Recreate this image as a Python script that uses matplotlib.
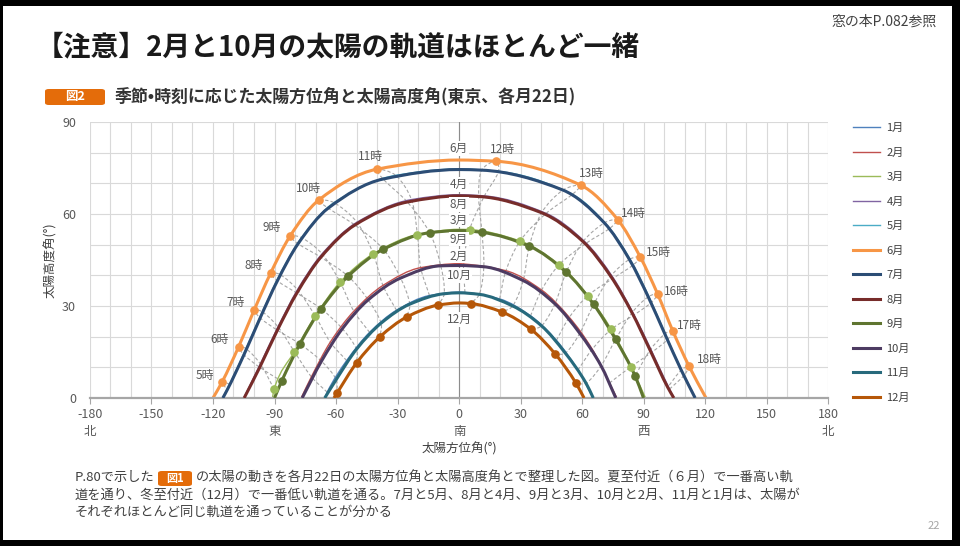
import numpy as np
import matplotlib.pyplot as plt
from matplotlib.path import Path
from matplotlib.patches import PathPatch, Rectangle, FancyBboxPatch
from matplotlib.lines import Line2D
from matplotlib.transforms import blended_transform_factory

plt.rcParams['font.family'] = ['Noto Sans CJK JP', 'DejaVu Sans']
plt.rcParams['axes.unicode_minus'] = False

# --- data: hourly sun position (azimuth, altitude), Tokyo, 22nd of each month ---
m01_hour = [7, 8, 9, 10, 11, 12, 13, 14, 15, 16]
m01_az = [-64.3, -54.8, -43.6, -30.5, -14.4, 2.9, 19.8, 34.9, 47.5, 58.0]
m01_alt = [1.9, 12.2, 21.4, 28.6, 33.4, 34.4, 32.3, 26.8, 18.8, 9.1]

m02_hour = [7, 8, 9, 10, 11, 12, 13, 14, 15, 16, 17]
m02_az = [-72.0, -62.8, -51.3, -37.1, -18.7, 2.3, 22.9, 40.3, 53.8, 65.0, 73.4]
m02_alt = [6.9, 18.2, 28.3, 36.7, 42.5, 43.7, 41.5, 35.2, 26.3, 15.9, 4.9]

m03_hour = [6, 7, 8, 9, 10, 11, 12, 13, 14, 15, 16, 17]
m03_az = [-90.2, -80.3, -70.1, -58.0, -41.8, -20.3, 5.2, 29.8, 48.9, 62.9, 74.3, 83.9]
m03_alt = [2.9, 15.1, 26.7, 37.8, 47.0, 53.3, 54.9, 51.2, 43.5, 33.4, 22.4, 10.2]

m04_hour = [6, 7, 8, 9, 10, 11, 12, 13, 14, 15, 16, 17, 18]
m04_az = [-96.9, -88.3, -78.8, -66.8, -49.8, -23.2, 12.4, 42.5, 62.1, 75.3, 85.4, 94.2, 102.7]
m04_alt = [11.1, 23.2, 35.3, 47.0, 57.3, 64.7, 65.9, 60.2, 50.5, 39.1, 27.1, 15.0, 2.9]

m05_hour = [5, 6, 7, 8, 9, 10, 11, 12, 13, 14, 15, 16, 17, 18]
m05_az = [-111.9, -103.9, -95.9, -87.4, -76.8, -61.0, -30.9, 19.3, 55.3, 73.5, 85.0, 93.9, 101.8, 109.8]
m05_alt = [4.5, 16.1, 28.1, 40.3, 52.3, 63.7, 72.6, 73.9, 66.4, 55.3, 43.4, 31.2, 19.1, 7.4]

m06_hour = [5, 6, 7, 8, 9, 10, 11, 12, 13, 14, 15, 16, 17, 18]
m06_az = [-115.5, -107.5, -99.9, -91.9, -82.4, -68.5, -40.1, 18.0, 59.4, 77.4, 88.4, 96.9, 104.2, 112.2]
m06_alt = [5.3, 16.7, 28.7, 40.7, 52.8, 64.5, 74.6, 77.2, 69.4, 58.2, 46.0, 33.9, 22.0, 10.4]

m07_hour = [5, 6, 7, 8, 9, 10, 11, 12, 13, 14, 15, 16, 17, 18]
m07_az = [-113.1, -104.9, -97.0, -88.6, -78.5, -63.8, -37.0, 11.1, 50.7, 70.9, 83.1, 92.3, 100.4, 108.4]
m07_alt = [2.6, 14.1, 26.1, 38.2, 50.3, 61.9, 71.4, 74.3, 67.8, 57.1, 45.2, 33.0, 20.9, 9.1]

m08_hour = [6, 7, 8, 9, 10, 11, 12, 13, 14, 15, 16, 17, 18]
m08_az = [-97.2, -88.6, -79.1, -67.4, -50.8, -25.2, 9.6, 40.3, 60.5, 74.0, 84.4, 93.2, 101.8]
m08_alt = [10.0, 22.1, 34.2, 45.9, 56.4, 63.9, 65.7, 60.4, 51.0, 39.7, 27.8, 15.6, 3.5]

m09_hour = [6, 7, 8, 9, 10, 11, 12, 13, 14, 15, 16, 17]
m09_az = [-86.5, -77.6, -67.3, -54.1, -36.9, -14.3, 11.2, 34.3, 52.3, 65.7, 76.4, 85.9]
m09_alt = [5.5, 17.6, 29.1, 39.7, 48.5, 53.9, 54.0, 49.5, 41.0, 30.5, 19.1, 7.2]

m10_hour = [7, 8, 9, 10, 11, 12, 13, 14, 15, 16]
m10_az = [-67.1, -56.9, -44.3, -28.5, -8.9, 12.1, 31.3, 46.8, 58.9, 69.3]
m10_alt = [12.0, 22.6, 32.0, 39.1, 43.1, 42.8, 38.3, 30.7, 21.1, 10.5]

m11_hour = [7, 8, 9, 10, 11, 12, 13, 14, 15, 16]
m11_az = [-59.9, -50.0, -38.0, -24.0, -7.2, 9.9, 26.2, 40.3, 51.9, 62.0]
m11_alt = [6.0, 15.9, 24.4, 30.6, 34.0, 33.8, 30.0, 23.5, 14.6, 4.8]

m12_hour = [7, 8, 9, 10, 11, 12, 13, 14, 15, 16]
m12_az = [-59.5, -49.9, -38.5, -25.5, -10.1, 5.7, 21.1, 35.1, 47.0, 57.1]
m12_alt = [1.6, 11.5, 20.0, 26.4, 30.3, 30.8, 28.0, 22.4, 14.3, 4.8]

# sunrise / sunset azimuth (altitude 0) and culmination altitude (azimuth 0)
rise_az = [-65.5, -77.0, -91.0, -105.0, -115.4, -120.0, -115.2, -104.8, -90.0, -76.5, -65.5, -61.0]
set_az = [65.5, 77.0, 91.0, 105.0, 115.4, 120.5, 115.2, 104.8, 90.0, 76.5, 65.5, 61.0]
peak_alt = [34.5, 43.8, 55.0, 66.3, 74.7, 77.6, 74.5, 65.9, 54.6, 43.2, 34.3, 31.0]

months = ['1月', '2月', '3月', '4月', '5月', '6月', '7月', '8月', '9月', '10月', '11月', '12月']
month_colors = ['#4F81BD', '#C0504D', '#9BBB59', '#8064A2', '#4BACC6', '#F79646',
                '#2C4D75', '#772C2A', '#5F7530', '#4D3B62', '#276A7C', '#B65708']
month_widths = [1.0, 1.0, 1.0, 1.0, 1.0, 2.2, 2.2, 2.2, 2.2, 2.2, 2.2, 2.2]
marked_months = [3, 6, 9, 12]

# labels written at azimuth 0
month_tag_text = ['6月', '4月', '8月', '3月', '9月', '2月', '10月', '12月']
month_tag_alt = [81.4, 69.6, 63.0, 58.0, 51.8, 46.3, 39.9, 25.6]

# hour labels next to the June markers (offset in pixels)
hour_label_offsets = [(-17, 6), (-19, 7), (-19, 7), (-17, 8), (-18, 9), (-10, 12), (-6, 13),
                      (7, 12), (11, 12), (16, 6), (18, 4), (19, 3), (17, 5), (20, 7)]

direction_az = [-180, -90, 0, 90, 180]
direction_text = ['北', '東', '南', '西', '北']

month_data = [
    (m01_hour, m01_az, m01_alt), (m02_hour, m02_az, m02_alt), (m03_hour, m03_az, m03_alt),
    (m04_hour, m04_az, m04_alt), (m05_hour, m05_az, m05_alt), (m06_hour, m06_az, m06_alt),
    (m07_hour, m07_az, m07_alt), (m08_hour, m08_az, m08_alt), (m09_hour, m09_az, m09_alt),
    (m10_hour, m10_az, m10_alt), (m11_hour, m11_az, m11_alt), (m12_hour, m12_az, m12_alt),
]


def bezier_path(pts, tang, t):
    verts = [pts[0]]
    codes = [Path.MOVETO]
    for i in range(len(pts) - 1):
        h = t[i + 1] - t[i]
        verts += [pts[i] + tang[i] * h / 3, pts[i + 1] - tang[i + 1] * h / 3, pts[i + 1]]
        codes += [Path.CURVE4] * 3
    return Path(verts, codes)


def smooth_path(x, y):
    # smoothed line through the points (chord-length Catmull-Rom as cubic beziers)
    pts = np.column_stack([x, y]).astype(float)
    scl = np.array([2.05, 3.07])  # roughly pixels per degree, for chord lengths
    d = np.linalg.norm(np.diff(pts * scl, axis=0), axis=1)
    t = np.concatenate([[0], np.cumsum(d)])
    m = np.zeros_like(pts)
    m[0] = (pts[1] - pts[0]) / (t[1] - t[0])
    m[-1] = (pts[-1] - pts[-2]) / (t[-1] - t[-2])
    for i in range(1, len(pts) - 1):
        m[i] = (pts[i + 1] - pts[i - 1]) / (t[i + 1] - t[i - 1])
    return bezier_path(pts, m, t)


def dome_path(x, y):
    # altitude as a smooth function of azimuth, no overshoot at the top (PCHIP slopes)
    x = np.asarray(x, float)
    y = np.asarray(y, float)
    h = np.diff(x)
    dl = np.diff(y) / h
    s = np.zeros_like(x)
    s[0], s[-1] = dl[0], dl[-1]
    for k in range(1, len(x) - 1):
        if dl[k - 1] * dl[k] > 0:
            w1 = 2 * h[k] + h[k - 1]
            w2 = h[k] + 2 * h[k - 1]
            s[k] = (w1 + w2) / (w1 / dl[k - 1] + w2 / dl[k])
    pts = np.column_stack([x, y])
    tang = np.column_stack([np.ones_like(s), s])
    return bezier_path(pts, tang, x)


fig = plt.figure(figsize=(9.6, 5.46), dpi=100, facecolor='black')
fig.patches.append(Rectangle((3 / 960, 6 / 546), 949 / 960, 534 / 546, transform=fig.transFigure,
                             fc='white', ec='none', zorder=-5))

fig.text(36 / 960, 1 - 47 / 546, '【注意】2月と10月の太陽の軌道はほとんど一緒',
         fontsize=20, fontweight='bold', color='#1a1a1a', va='center')
fig.text(937 / 960, 1 - 22 / 546, '窓の本P.082参照', fontsize=10, color='#404040',
         ha='right', va='center')

fig.patches.append(FancyBboxPatch((45 / 960, 1 - 105 / 546), 60 / 960, 16 / 546,
                                  boxstyle='round,pad=0,rounding_size=0.004',
                                  transform=fig.transFigure, fc='#E46C0A', ec='none', zorder=-4))
fig.text(75 / 960, 1 - 96.5 / 546, '図2', fontsize=9, color='white', fontweight='bold',
         ha='center', va='center')
fig.text(115 / 960, 1 - 96 / 546, '季節•時刻に応じた太陽方位角と太陽高度角(東京、各月22日)',
         fontsize=12.2, fontweight='bold', color='#333333', va='center')

ax = fig.add_axes([90 / 960, 148 / 546, 738 / 960, 276 / 546])
ax.set_zorder(2)
ax.patch.set_alpha(0)
ax.set_xlim(-180, 180)
ax.set_ylim(0, 90)
ax.set_xticks(np.arange(-180, 181, 30))
ax.set_yticks([0, 30, 60, 90])
ax.set_xticks(np.arange(-180, 181, 10), minor=True)
ax.set_yticks(np.arange(0, 91, 10), minor=True)
ax.grid(which='both', color='#D9D9D9', lw=0.8, zorder=0)
ax.set_axisbelow(True)
for s in ['top', 'right', 'left']:
    ax.spines[s].set_visible(False)
ax.spines['bottom'].set_color('#A6A6A6')
ax.spines['bottom'].set_linewidth(1.6)
ax.tick_params(axis='x', which='major', length=4, width=0.8, color='#A6A6A6',
               labelsize=9, labelcolor='#595959', pad=3)
ax.tick_params(axis='y', which='major', length=0, labelsize=9, labelcolor='#595959', pad=10)
ax.tick_params(which='minor', length=0)
ax.axvline(0, color='#8C8C8C', lw=0.8, zorder=1)

tr = blended_transform_factory(ax.transData, ax.transAxes)
for az, t in zip(direction_az, direction_text):
    ax.text(az, -0.123, t, transform=tr, ha='center', va='center', fontsize=9, color='#595959')
ax.text(0.5, -0.185, '太陽方位角(°)', transform=ax.transAxes, ha='center', va='center',
        fontsize=9, color='#404040')
ax.text(-0.054, 0.5, '太陽高度角(°)', transform=ax.transAxes, ha='center', va='center',
        rotation=90, fontsize=9, color='#404040')

# dashed hour lines connecting the same hour across months
all_hours = sorted(set(h for md in month_data for h in md[0]))
for h in all_hours:
    xs, ys = [], []
    for hours, az, alt in month_data:
        if h in hours:
            k = hours.index(h)
            xs.append(az[k])
            ys.append(alt[k])
    if len(xs) > 1:
        ax.add_patch(PathPatch(smooth_path(xs, ys), fill=False, ec='#A6A6A6', lw=0.8,
                               ls=(0, (3, 2)), zorder=1.5))

# month curves
for i, (hours, az, alt) in enumerate(month_data):
    px = [rise_az[i]] + list(az) + [0.0, set_az[i]]
    py = [0.0] + list(alt) + [peak_alt[i], 0.0]
    order = np.argsort(px)
    ax.add_patch(PathPatch(dome_path(np.array(px)[order], np.array(py)[order]), fill=False,
                           ec=month_colors[i], lw=month_widths[i], zorder=2 + i * 0.1,
                           capstyle='butt'))
    if i + 1 in marked_months:
        ax.plot(az, alt, ls='none', marker='o', ms=5.2, color=month_colors[i],
                mec=month_colors[i], zorder=4 + i * 0.1)

for h, az, alt, off in zip(m06_hour, m06_az, m06_alt, hour_label_offsets):
    ax.annotate(f'{h}時', xy=(az, alt), xytext=off, textcoords='offset pixels',
                ha='center', va='center', fontsize=8.5, color='#595959', zorder=6)

for t, a in zip(month_tag_text, month_tag_alt):
    ax.text(0, a, t, ha='center', va='center', fontsize=8.5, color='#595959', zorder=6,
            bbox=dict(fc='white', ec='none', pad=0.6))

handles = [Line2D([], [], color=c, lw=w) for c, w in zip(month_colors, month_widths)]
ax.legend(handles, months, loc='upper left', bbox_to_anchor=(843 / 960, 1 - 113 / 546),
          bbox_transform=fig.transFigure, frameon=False, fontsize=8, handlelength=2.4,
          labelspacing=1.3, handletextpad=0.6, labelcolor='#404040')

# caption
body = dict(fontsize=9.5, color='#404040', va='center')
fig.text(75 / 960, 1 - 478 / 546, 'P.80で示した', **body)
fig.patches.append(FancyBboxPatch((158 / 960, 1 - 486 / 546), 34 / 960, 15 / 546,
                                  boxstyle='round,pad=0,rounding_size=0.004',
                                  transform=fig.transFigure, fc='#E46C0A', ec='none', zorder=-4))
fig.text(175 / 960, 1 - 478.5 / 546, '図1', fontsize=8, color='white', fontweight='bold',
         ha='center', va='center')
fig.text(196 / 960, 1 - 478 / 546,
         'の太陽の動きを各月22日の太陽方位角と太陽高度角とで整理した図。夏至付近（６月）で一番高い軌', **body)
fig.text(75 / 960, 1 - 495 / 546,
         '道を通り、冬至付近（12月）で一番低い軌道を通る。7月と5月、8月と4月、9月と3月、10月と2月、11月と1月は、太陽が', **body)
fig.text(75 / 960, 1 - 512 / 546, 'それぞれほとんど同じ軌道を通っていることが分かる', **body)
fig.text(940 / 960, 1 - 526 / 546, '22', fontsize=8, color='#A6A6A6', ha='right', va='center')

fig.savefig('out.png', dpi=100, facecolor='black')
